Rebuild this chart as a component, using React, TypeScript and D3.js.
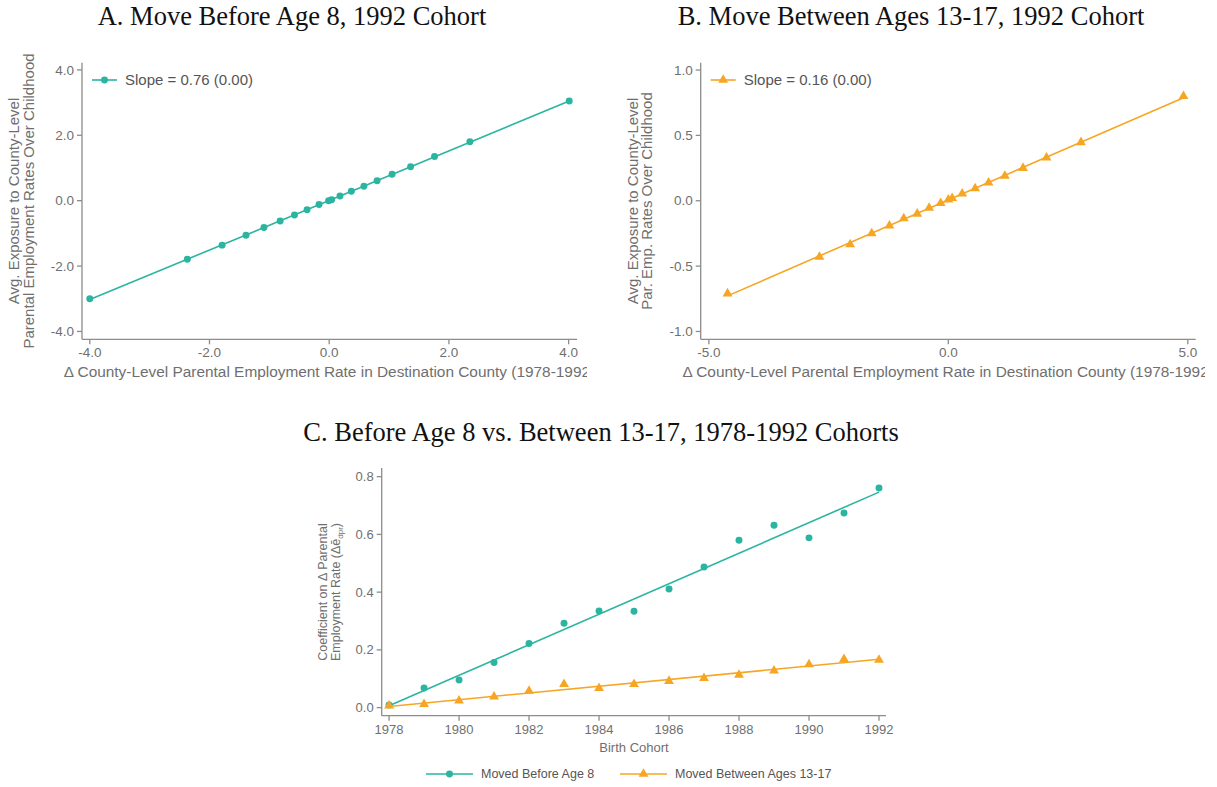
import * as d3 from "d3";

const TEAL = "#2bb5a0";
const ORANGE = "#f6a623";
const AXIS = "#8c8c8c";
const TEXT = "#6f6f6f";
const SANS = "'Liberation Sans', Arial, Helvetica, sans-serif";
const SERIF = "'Liberation Serif', 'Times New Roman', serif";

// Panel A: move before age 8, binned scatter
const aX = [-4.0, -2.37, -1.79, -1.39, -1.09, -0.82, -0.58, -0.37, -0.17, -0.01, 0.04, 0.18, 0.37, 0.58, 0.8, 1.05, 1.36, 1.76, 2.35, 4.01];
const aY = [-3.0, -1.79, -1.36, -1.06, -0.82, -0.62, -0.44, -0.28, -0.12, 0.0, 0.03, 0.14, 0.29, 0.44, 0.61, 0.81, 1.04, 1.35, 1.8, 3.05];
const aXTicks = [-4, -2, 0, 2, 4];
const aYTicks = [-4, -2, 0, 2, 4];

// Panel B: move between ages 13-17
const bX = [-4.61, -2.69, -2.05, -1.6, -1.23, -0.93, -0.65, -0.4, -0.16, 0.0, 0.08, 0.29, 0.56, 0.84, 1.18, 1.56, 2.05, 2.77, 4.91];
const bY = [-0.71, -0.43, -0.334, -0.25, -0.19, -0.135, -0.1, -0.055, -0.018, 0.008, 0.02, 0.054, 0.095, 0.138, 0.19, 0.25, 0.33, 0.447, 0.8];
const bXTicks = [-5, 0, 5];
const bYTicks = [-1, -0.5, 0, 0.5, 1];

// Panel C: coefficients by birth cohort
const cohorts = [1978, 1979, 1980, 1981, 1982, 1983, 1984, 1985, 1986, 1987, 1988, 1989, 1990, 1991, 1992];
const before8 = [0.009, 0.068, 0.096, 0.156, 0.222, 0.292, 0.335, 0.334, 0.411, 0.487, 0.58, 0.632, 0.588, 0.674, 0.761];
const between1317 = [0.007, 0.012, 0.024, 0.038, 0.058, 0.081, 0.067, 0.081, 0.092, 0.102, 0.113, 0.128, 0.15, 0.168, 0.165];
const cXTicks = [1978, 1980, 1982, 1984, 1986, 1988, 1990, 1992];
const cYTicks = [0, 0.2, 0.4, 0.6, 0.8];

const xTitle = "\u0394 County-Level Parental Employment Rate in Destination County (1978-1992)";

function fit(xs: number[], ys: number[]) {
  const mx = d3.mean(xs)!;
  const my = d3.mean(ys)!;
  const b = d3.sum(xs.map((x, i) => (x - mx) * (ys[i] - my))) / d3.sum(xs.map((x) => (x - mx) ** 2));
  return { b, a: my - b * mx };
}

// plain hyphen instead of d3's unicode minus
const f1 = (v: number) => d3.format(".1f")(v).replace("\u2212", "-");

const circlePath = d3.symbol().type(d3.symbolCircle).size(38)()!;
const trianglePath = d3.symbol().type(d3.symbolTriangle).size(42)()!;

function Marker({ x, y, shape, color }: { x: number; y: number; shape: string; color: string }) {
  return <path d={shape === "circle" ? circlePath : trianglePath} transform={`translate(${x},${y})`} fill={color} />;
}

function Axes({ x, y, xTicks, yTicks, fmtX, fmtY, fs }: any) {
  const [x0, x1] = x.range();
  const [y0, y1] = y.range();
  return (
    <g fontFamily={SANS} fill={TEXT} fontSize={fs}>
      <line x1={x0} x2={x1} y1={y0} y2={y0} stroke={AXIS} strokeWidth={1.3} />
      <line x1={x0} x2={x0} y1={y0} y2={y1} stroke={AXIS} strokeWidth={1.3} />
      {xTicks.map((t: number) => (
        <g key={"x" + t}>
          <line x1={x(t)} x2={x(t)} y1={y0} y2={y0 + 5} stroke={AXIS} strokeWidth={1.3} />
          <text x={x(t)} y={y0 + 18} textAnchor="middle">{fmtX(t)}</text>
        </g>
      ))}
      {yTicks.map((t: number) => (
        <g key={"y" + t}>
          <line x1={x0} x2={x0 - 5} y1={y(t)} y2={y(t)} stroke={AXIS} strokeWidth={1.3} />
          <text x={x0 - 8} y={y(t)} dy="0.35em" textAnchor="end">{fmtY(t)}</text>
        </g>
      ))}
    </g>
  );
}

function ScatterPanel({ id, xs, ys, xDom, xRange, yDom, xTicks, yTicks, color, shape, legend, yLines, clipX }: any) {
  const x = d3.scaleLinear().domain(xDom).range(xRange);
  const y = d3.scaleLinear().domain(yDom).range([339.3, 62.7]);
  const { a, b } = fit(xs, ys);
  const ext = d3.extent(xs) as [number, number];
  const cx = (xRange[0] + xRange[1]) / 2;
  return (
    <g>
      <clipPath id={id}>
        <rect x={clipX[0]} y={0} width={clipX[1] - clipX[0]} height={400} />
      </clipPath>
      <Axes x={x} y={y} xTicks={xTicks} yTicks={yTicks} fmtX={f1} fmtY={f1} fs={13.5} />
      <line x1={x(ext[0])} x2={x(ext[1])} y1={y(a + b * ext[0])} y2={y(a + b * ext[1])} stroke={color} strokeWidth={1.6} />
      {xs.map((v: number, i: number) => (
        <Marker key={i} x={x(v)} y={y(ys[i])} shape={shape} color={color} />
      ))}
      <g transform={`translate(${xRange[0] + 10},80)`}>
        <line x1={0} x2={25} y1={0} y2={0} stroke={color} strokeWidth={1.6} />
        <Marker x={12.5} y={0} shape={shape} color={color} />
        <text x={33} y={0} dy="0.35em" fontFamily={SANS} fontSize={15} fill="#555">{legend}</text>
      </g>
      <g clipPath={`url(#${id})`}>
        <text x={cx} y={377} textAnchor="middle" fontFamily={SANS} fontSize={15.4} fill={TEXT}>{xTitle}</text>
      </g>
      <text transform={`translate(${xRange[0] - 63},201) rotate(-90)`} textAnchor="middle" fontFamily={SANS} fontSize={15} fill={TEXT}>
        <tspan x={0} dy={0}>{yLines[0]}</tspan>
        <tspan x={0} dy={14.5}>{yLines[1]}</tspan>
      </text>
    </g>
  );
}

function CohortPanel() {
  const x = d3.scaleLinear().domain([1977.79, 1992.2]).range([381.7, 886]);
  const y = d3.scaleLinear().domain([-0.028, 0.83]).range([715.7, 468]);
  const series = [
    { vals: before8, color: TEAL, shape: "circle", label: "Moved Before Age 8" },
    { vals: between1317, color: ORANGE, shape: "triangle", label: "Moved Between Ages 13-17" },
  ];
  const ext = d3.extent(cohorts) as [number, number];
  return (
    <g>
      <Axes x={x} y={y} xTicks={cXTicks} yTicks={cYTicks} fmtX={d3.format("d")} fmtY={f1} fs={13} />
      {series.map((s) => {
        const { a, b } = fit(cohorts, s.vals);
        return (
          <g key={s.label}>
            <line x1={x(ext[0])} x2={x(ext[1])} y1={y(a + b * ext[0])} y2={y(a + b * ext[1])} stroke={s.color} strokeWidth={1.6} />
            {cohorts.map((c, i) => (
              <Marker key={c} x={x(c)} y={y(s.vals[i])} shape={s.shape} color={s.color} />
            ))}
          </g>
        );
      })}
      <text x={634} y={752} textAnchor="middle" fontFamily={SANS} fontSize={13} fill={TEXT}>Birth Cohort</text>
      <text transform="translate(327,592) rotate(-90)" textAnchor="middle" fontFamily={SANS} fontSize={12.5} fill={TEXT}>
        <tspan x={0} dy={0}>Coefficient on {"\u0394"} Parental</tspan>
        <tspan x={0} dy={12.5}>Employment Rate ({"\u0394\u0113"}</tspan>
        <tspan fontSize={8} dy={3}>dpr</tspan>
        <tspan dy={-3}>)</tspan>
      </text>
      {series.map((s, i) => (
        <g key={s.label} transform={`translate(${i === 0 ? 426 : 620},774)`}>
          <line x1={0} x2={47} y1={0} y2={0} stroke={s.color} strokeWidth={1.6} />
          <Marker x={23.5} y={0} shape={s.shape} color={s.color} />
          <text x={55} y={0} dy="0.35em" fontFamily={SANS} fontSize={12.5} fill="#555">{s.label}</text>
        </g>
      ))}
    </g>
  );
}

export default function App() {
  return (
    <svg width={1217} height={787} style={{ position: "absolute", left: 0, top: 0, background: "#fff" }}>
      <text x={292} y={25} textAnchor="middle" fontFamily={SERIF} fontSize={26.5} fill="#111">A. Move Before Age 8, 1992 Cohort</text>
      <text x={911} y={25} textAnchor="middle" fontFamily={SERIF} fontSize={26.5} fill="#111">B. Move Between Ages 13-17, 1992 Cohort</text>
      <text x={601} y={441} textAnchor="middle" fontFamily={SERIF} fontSize={26.5} fill="#111">C. Before Age 8 vs. Between 13-17, 1978-1992 Cohorts</text>
      <ScatterPanel
        id="clipA" xs={aX} ys={aY} xDom={[-4.13, 4.14]} xRange={[82, 577]} yDom={[-4.24, 4.22]}
        xTicks={aXTicks} yTicks={aYTicks} color={TEAL} shape="circle" legend="Slope = 0.76 (0.00)"
        yLines={["Avg. Exposure to County-Level", "Parental Employment Rates Over Childhood"]} clipX={[0, 587]}
      />
      <ScatterPanel
        id="clipB" xs={bX} ys={bY} xDom={[-5.17, 5.165]} xRange={[700.7, 1195.7]} yDom={[-1.06, 1.056]}
        xTicks={bXTicks} yTicks={bYTicks} color={ORANGE} shape="triangle" legend="Slope = 0.16 (0.00)"
        yLines={["Avg. Exposure to County-Level", "Par. Emp. Rates Over Childhood"]} clipX={[610, 1205]}
      />
      <CohortPanel />
    </svg>
  );
}
